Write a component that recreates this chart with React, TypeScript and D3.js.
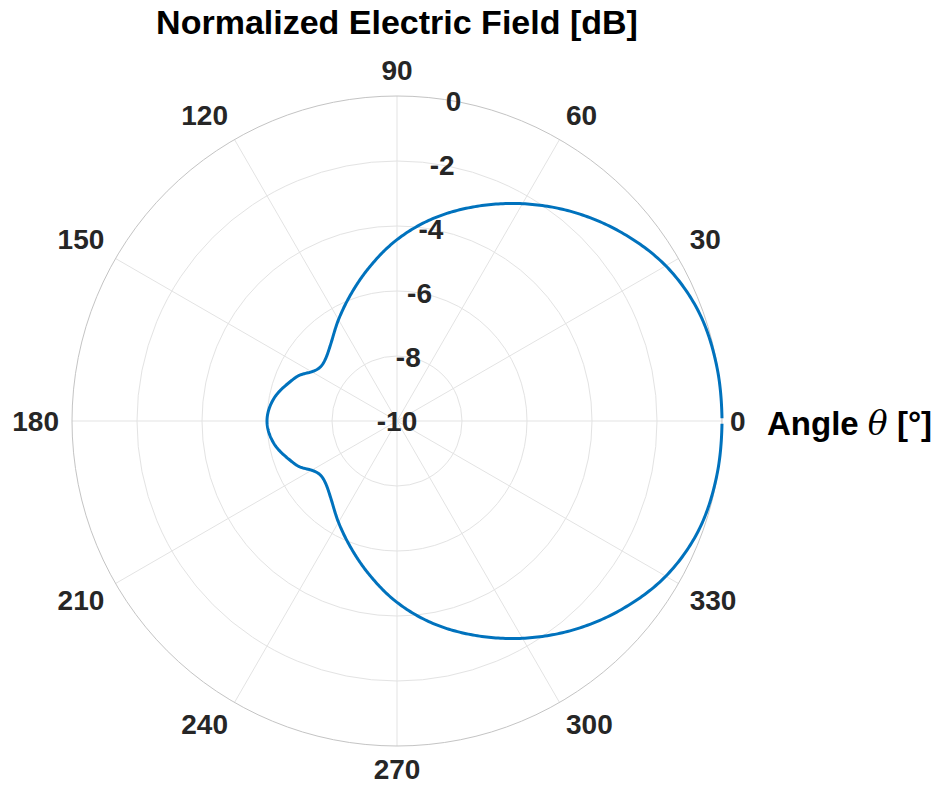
import React from "react";
import * as d3 from "d3";

const angles = [0.5, 10, 20, 30, 40, 50, 60, 70, 80, 90, 100, 110, 120, 130, 140, 146, 150, 155, 160, 170, 180,
  190, 200, 205, 210, 214, 220, 230, 240, 250, 260, 270, 280, 290, 300, 310, 320, 330, 340, 350, 359.5];
const fieldDb = [0, -0.02, -0.13, -0.45, -0.98, -1.6, -2.28, -2.98, -3.68, -4.42, -5.18, -5.85, -6.4, -6.85, -7.1, -7.1, -6.97, -6.68, -6.49, -6.14, -6.0,
  -6.14, -6.49, -6.68, -6.97, -7.1, -7.1, -6.85, -6.4, -5.85, -5.18, -4.42, -3.68, -2.98, -2.28, -1.6, -0.98, -0.45, -0.13, -0.02, 0];
const rTicks = [-10, -8, -6, -4, -2, 0];
const thetaTicks = [0, 30, 60, 90, 120, 150, 180, 210, 240, 270, 300, 330];

const W = 938, H = 794;
const cx = 397, cy = 421, R = 325;
const FONT = "'Liberation Sans', Arial, sans-serif";

// Hermite spline in (angle, dB) space, used only to draw a smooth line through the read points
function smoothPolar(a: number[], v: number[]) {
  const n = a.length;
  const slope = (i: number, j: number) => (v[j] - v[i]) / (a[j] - a[i]);
  const m = a.map((_, i) => {
    if (i === 0) return slope(0, 1);
    if (i === n - 1) return slope(n - 2, n - 1);
    return (slope(i - 1, i) + slope(i, i + 1)) / 2;
  });
  const out: { a: number; v: number }[] = [];
  for (let i = 0; i < n - 1; i++) {
    const h = a[i + 1] - a[i];
    const steps = Math.max(4, Math.ceil(h * 2));
    for (let k = 0; k < steps; k++) {
      const t = k / steps;
      const t2 = t * t, t3 = t2 * t;
      const h00 = 2 * t3 - 3 * t2 + 1, h10 = t3 - 2 * t2 + t, h01 = -2 * t3 + 3 * t2, h11 = t3 - t2;
      out.push({ a: a[i] + t * h, v: h00 * v[i] + h10 * h * m[i] + h01 * v[i + 1] + h11 * h * m[i + 1] });
    }
  }
  out.push({ a: a[n - 1], v: v[n - 1] });
  return out;
}

export default function App() {
  const r = d3.scaleLinear().domain([-10, 0]).range([0, R]);
  const pt = (deg: number, rad: number) => {
    const ang = (deg * Math.PI) / 180;
    return [cx + rad * Math.cos(ang), cy - rad * Math.sin(ang)];
  };
  const data = smoothPolar(angles, fieldDb);
  const line = d3
    .line<{ a: number; v: number }>()
    .x((d) => pt(d.a, r(d.v))[0])
    .y((d) => pt(d.a, r(d.v))[1]);

  const labelR = 338;
  return (
    <svg width={W} height={H} style={{ position: "absolute", left: 0, top: 0, background: "#fff" }}>
      {rTicks.slice(1, -1).map((t) => (
        <circle key={t} cx={cx} cy={cy} r={r(t)} fill="none" stroke="#e3e3e3" strokeWidth={1} />
      ))}
      {thetaTicks.map((t) => {
        const [x, y] = pt(t, R);
        return <line key={t} x1={cx} y1={cy} x2={x} y2={y} stroke="#e3e3e3" strokeWidth={1} />;
      })}
      <circle cx={cx} cy={cy} r={R} fill="none" stroke="#c4c4c4" strokeWidth={1} />
      <path d={line(data) || ""} fill="none" stroke="#0072BD" strokeWidth={3} strokeLinejoin="round" />
      {rTicks.map((t) => {
        const [x, y] = pt(80, r(t));
        return (
          <text key={t} x={x} y={y + 3} textAnchor="middle" dominantBaseline="middle"
            fontFamily={FONT} fontWeight="bold" fontSize={28} fill="#262626">{t}</text>
        );
      })}
      {thetaTicks.map((t) => {
        const [x, y] = pt(t, labelR);
        const c = Math.cos((t * Math.PI) / 180);
        const s = Math.sin((t * Math.PI) / 180);
        const anchor = c > 0.1 ? "start" : c < -0.1 ? "end" : "middle";
        const base = s > 0.1 ? "auto" : s < -0.1 ? "hanging" : "middle";
        const dy = s > 0.1 ? -3 : s < -0.1 ? 0 : 3;
        const dx = t === 0 ? -5 : 0;
        return (
          <text key={t} x={x + dx} y={y + dy} textAnchor={anchor} dominantBaseline={base}
            fontFamily={FONT} fontWeight="bold" fontSize={28} fill="#262626">{t}</text>
        );
      })}
      <text x={397} y={34} textAnchor="middle" fontFamily={FONT} fontWeight="bold" fontSize={34} fill="#000">
        Normalized Electric Field [dB]
      </text>
      <text x={767} y={435} fontFamily={FONT} fontWeight="bold" fontSize={33} fill="#000">
        Angle <tspan fontFamily="'DejaVu Serif', 'Liberation Serif', serif" fontStyle="italic" fontWeight="normal">θ</tspan> [°]
      </text>
    </svg>
  );
}
